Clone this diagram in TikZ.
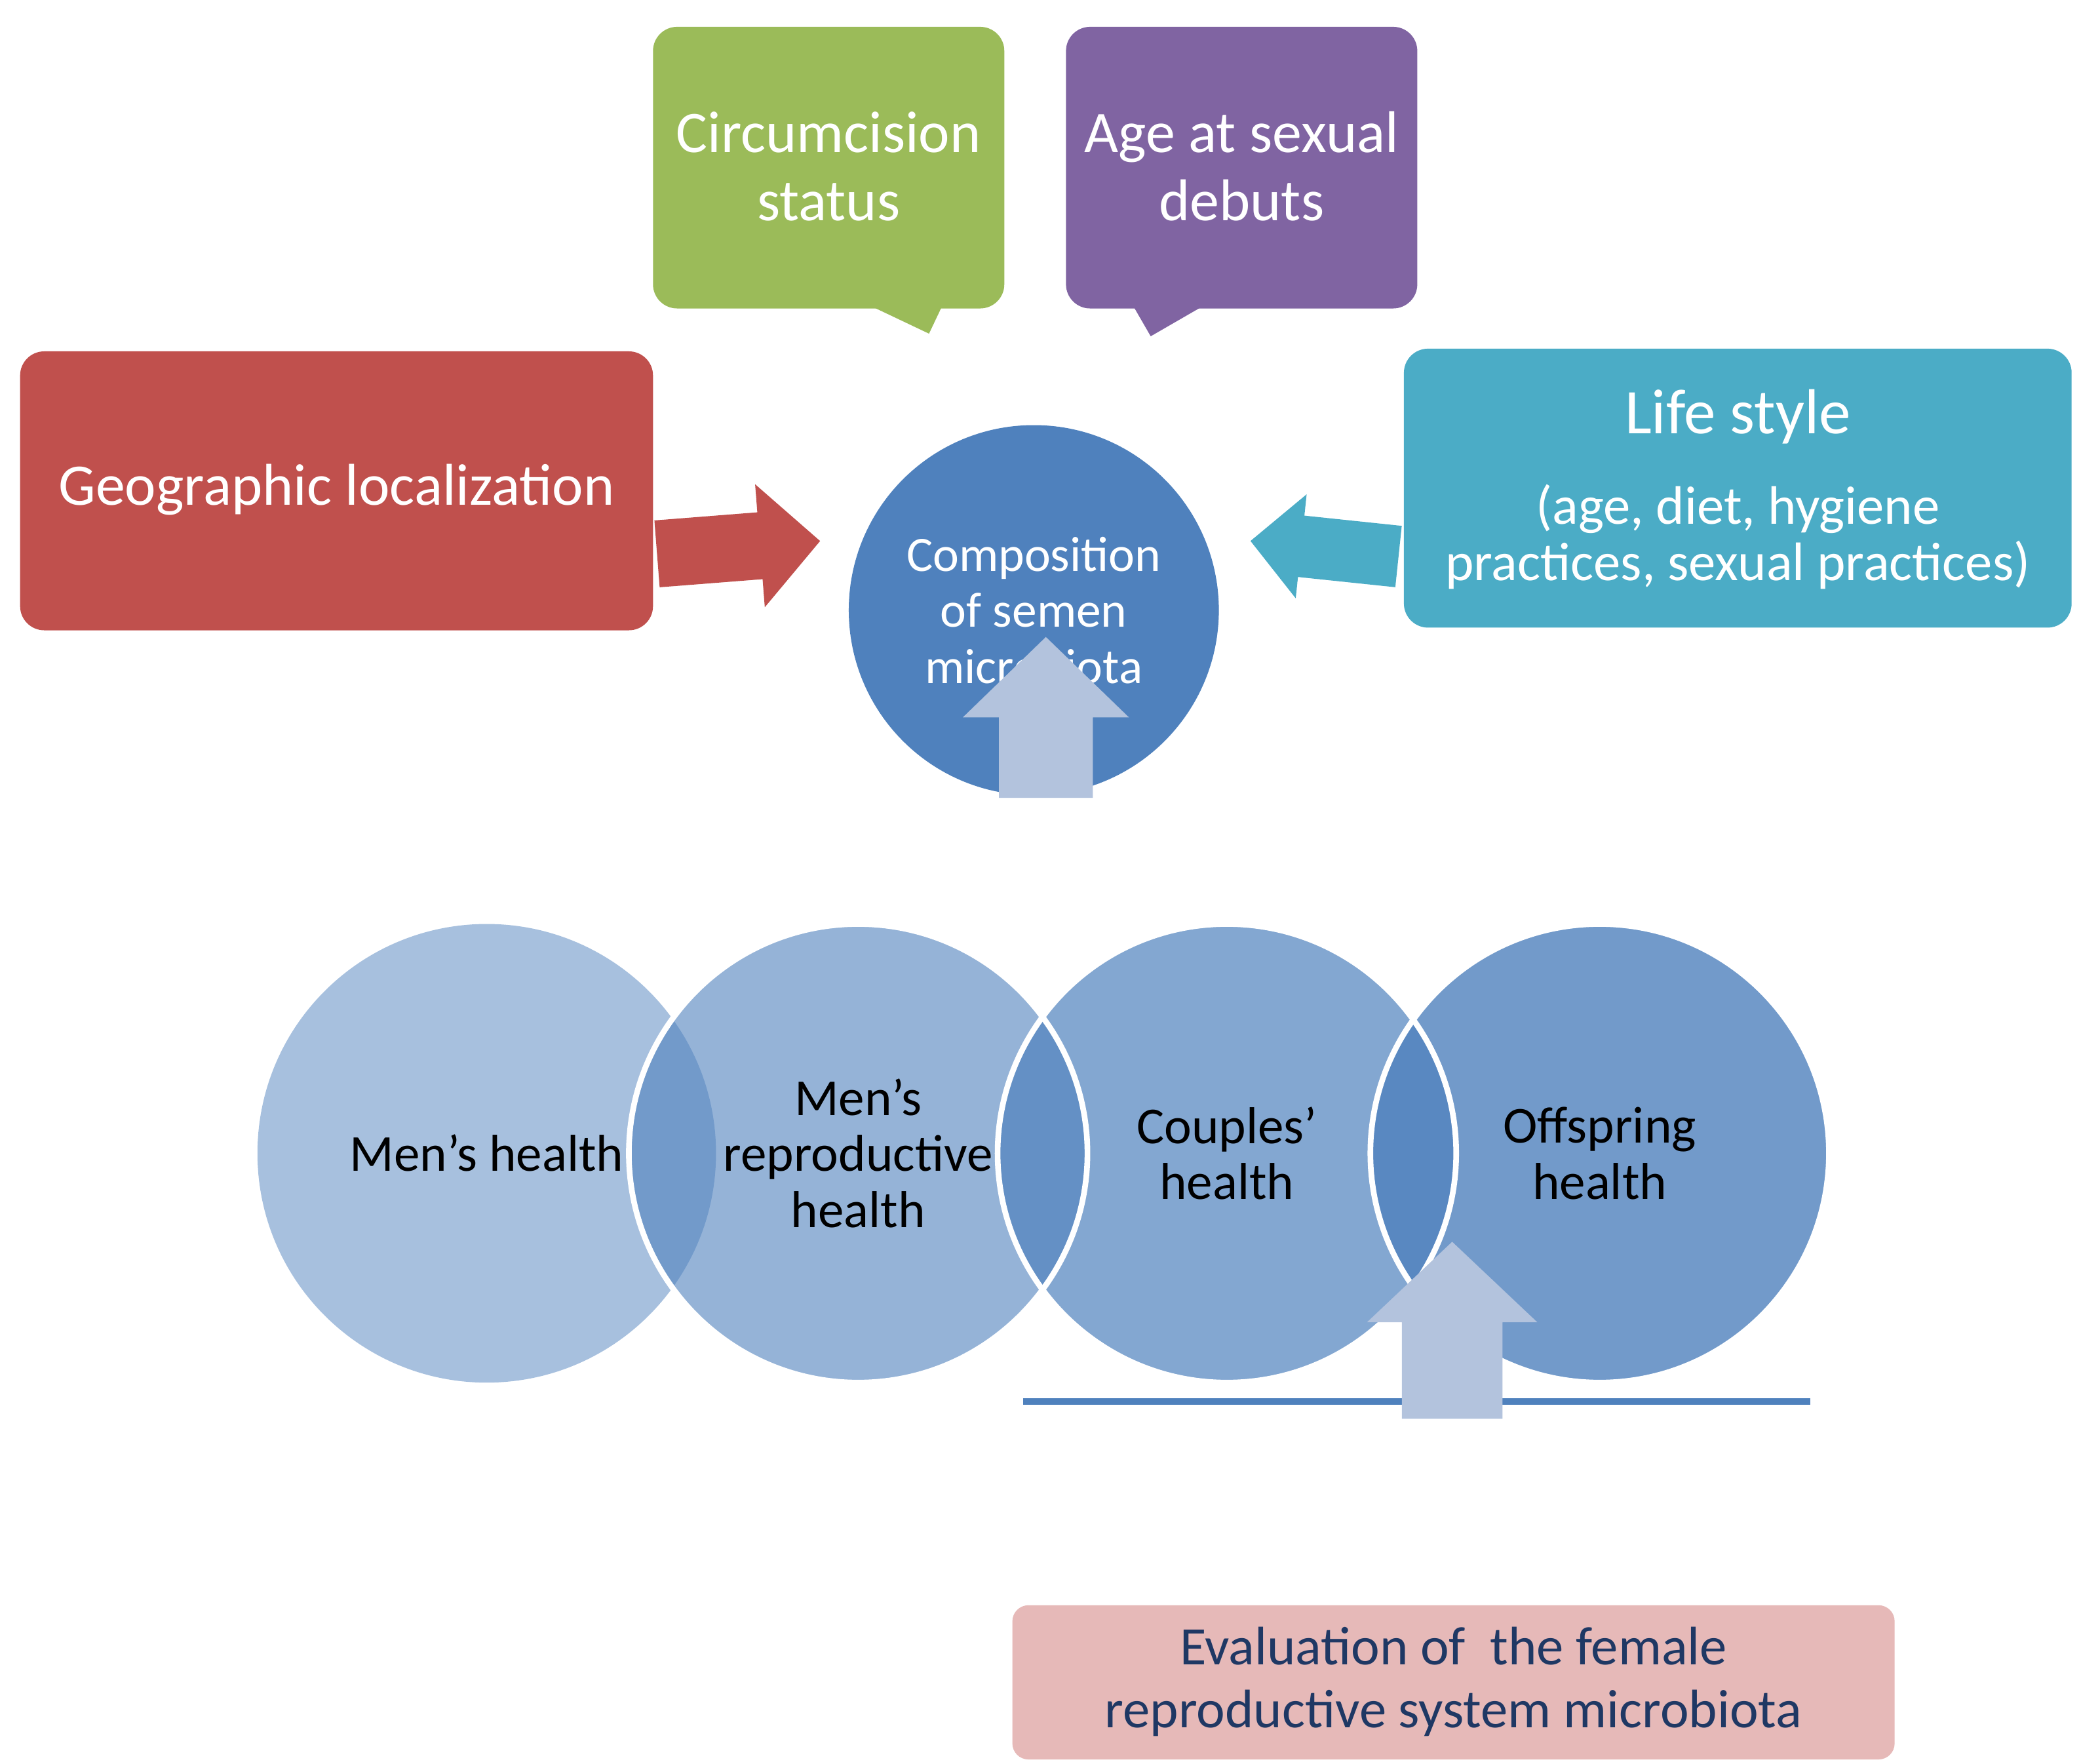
\documentclass[tikz,border=0pt]{standalone}
\usepackage{fontspec}
\setmainfont{Carlito}
\definecolor{cgreen}{HTML}{9BBB59}
\definecolor{cpurple}{HTML}{8064A2}
\definecolor{cred}{HTML}{C0504D}
\definecolor{cteal}{HTML}{4BACC6}
\definecolor{cblue}{HTML}{4F81BD}
\definecolor{carrow}{HTML}{B3C3DD}
\definecolor{cpink}{HTML}{E6B9B8}
\definecolor{ctext}{HTML}{1F3864}
% color, x, y, angle, length, shaft w, head w, head len
\newcommand\barrow[8]{%
 \fill[#1,shift={(#2,#3)},rotate=#4] (0,-#6/2) -- (#5-#8,-#6/2) -- (#5-#8,-#7/2) -- (#5,0) -- (#5-#8,#7/2) -- (#5-#8,#6/2) -- (0,#6/2) -- cycle;}
\begin{document}
\begin{tikzpicture}[x=0.01cm,y=-0.01cm,
 box/.style={rounded corners=0.18cm,text=white,align=center,inner sep=0pt},
 big/.style={font=\fontsize{12.5}{14.5}\selectfont}]
\useasboundingbox (0,0) rectangle (1552,1315);
\fill[cgreen,rounded corners=0.18cm] (487,20) rectangle (749,230);
\node[box,big] (circ) at (618,124) {Circumcision\\status};
\fill[cpurple,rounded corners=0.18cm] (795,20) rectangle (1057,230);
\node[box,big] (age) at (926,124) {Age at sexual\\debuts};
\fill[cred,rounded corners=0.18cm] (15,262) rectangle (487,470);
\node[box,big] (geo) at (251,365) {Geographic localization};
\fill[cteal,rounded corners=0.18cm] (1047,260) rectangle (1545,468);
\node[box,align=center,text=white] (life) at (1296,365) {{\fontsize{13.5}{16}\selectfont Life style}\\[0.25cm]{\fontsize{11.5}{13.5}\selectfont (age, diet, hygiene}\\{\fontsize{11.5}{13.5}\selectfont practices, sexual practices)}};
\fill[cblue] (771,455) circle (138);
\node[text=white,align=center,font=\fontsize{10.5}{11.9}\selectfont] (comp) at (771,455) {Composition\\of semen\\microbiota};
\barrow{cgreen}{668}{237}{64.6}{88}{55}{80}{38}
\barrow{cpurple}{882}{237}{120}{90}{55}{80}{38}
\barrow{cred}{490}{413}{4.5}{122}{50}{92}{45}
\barrow{cteal}{1043}{415}{174}{111}{46}{78}{38}
\barrow{carrow}{780}{595}{90}{120}{70}{124}{60}
\foreach \x/\o in {363/0.5,640/0.6,915/0.7,1193/0.8}
 \fill[cblue,fill opacity=\o] (\x,860) circle (171);
\foreach \x in {640,915,1193}
 \draw[white,line width=1.2pt] (\x,860) circle (171);
\node[font=\fontsize{11}{11.9}\selectfont] (mh) at (363,860) {Men’s health};
\node[align=center,font=\fontsize{11}{11.9}\selectfont] (mrh) at (640,860) {Men’s\\reproductive\\health};
\node[align=center,font=\fontsize{11}{11.9}\selectfont] (ch) at (915,860) {Couples’\\health};
\node[align=center,font=\fontsize{11}{11.9}\selectfont] (oh) at (1193,860) {Offspring\\health};
\coordinate (l1) at (763,1045); \coordinate (l2) at (1350,1045);
\draw[cblue,line width=1.3pt] (l1) -- (l2);
\barrow{carrow}{1083}{1058}{90}{132}{75}{127}{60}
\fill[cpink,rounded corners=0.12cm] (755,1197) rectangle (1413,1312);
\node[align=center,text=ctext,font=\fontsize{11.5}{13.4}\selectfont] (eval) at (1084,1254) {Evaluation of~ the female\\reproductive system microbiota};
\end{tikzpicture}
\end{document}
